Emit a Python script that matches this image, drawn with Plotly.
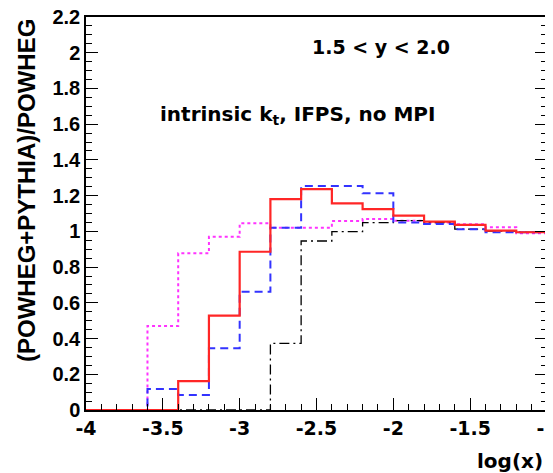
import plotly.graph_objects as go

bin_edges = [-4.0, -3.8, -3.6, -3.4, -3.2, -3.0, -2.8, -2.6, -2.4, -2.2, -2.0,
             -1.8, -1.6, -1.4, -1.2, -1.0]
red_vals = [0, 0, 0, 0.162, 0.528, 0.886, 1.18, 1.237, 1.157, 1.124, 1.088,
            1.055, 1.036, 1.004, 0.995]
blue_vals = [0, 0, 0.118, 0.084, 0.345, 0.662, 1.02, 1.254, 1.254, 1.213,
             1.049, 1.041, 1.012, 0.995, 0.995]
magenta_vals = [0, 0, 0.47, 0.877, 0.97, 1.045, 1.02, 1.02, 1.058, 1.069,
                1.06, 1.05, 1.04, 1.023, 0.99]
black_vals = [0, 0, 0, 0, 0, 0, 0.373, 0.946, 0.998, 1.049, 1.06, 1.049,
              1.012, 1.002, 0.995]

x_tick_vals = [-4, -3.5, -3, -2.5, -2, -1.5, -1]
x_tick_text = ["-4", "-3.5", "-3", "-2.5", "-2", "-1.5", "-1"]
y_tick_vals = [0, 0.2, 0.4, 0.6, 0.8, 1, 1.2, 1.4, 1.6, 1.8, 2, 2.2]
y_tick_text = ["0", "0.2", "0.4", "0.6", "0.8", "1", "1.2", "1.4", "1.6", "1.8", "2", "2.2"]

FONT = "Liberation Sans"
TFONT = "DejaVu Sans"
# the page body has an 8px margin, so the figure starts 8px in
OFF = 8
W, H = 553 - OFF, 473 - OFF
ML, MR, MT, MB = 86 - OFF, 6, 17 - OFF, 63

fig = go.Figure()

def step(vals, color, dash, width):
    fig.add_trace(go.Scatter(
        x=bin_edges, y=vals + [vals[-1]], mode="lines", line_shape="hv",
        line=dict(color=color, dash=dash, width=width),
        showlegend=False, hoverinfo="skip"))

step(magenta_vals, "#ff33ff", "dot", 2)
step(black_vals, "#000000", "10px,4px,2px,4px", 1.3)
step(blue_vals, "#3333ff", "8px,5px", 2)
step(red_vals, "#ff2626", "solid", 2.2)

fig.update_layout(
    width=W, height=H,
    margin=dict(l=ML, r=MR, t=MT, b=MB, autoexpand=False),
    plot_bgcolor="white", paper_bgcolor="white",
    font=dict(family=FONT, color="black"),
    xaxis=dict(
        range=[-4, -1], tickvals=x_tick_vals, ticktext=x_tick_text,
        ticks="inside", ticklen=12, tickwidth=1, tickcolor="black",
        minor=dict(dtick=0.1, ticks="inside", ticklen=6, tickcolor="black"),
        showgrid=False, zeroline=False, automargin=False,
        ticklabeloverflow="allow",
        showline=True, linecolor="black", linewidth=1.5, mirror=True,
        tickfont=dict(family=TFONT, size=19, color="black", weight="bold"),
    ),
    yaxis=dict(
        range=[0, 2.2], tickvals=y_tick_vals, ticktext=y_tick_text,
        ticks="inside", ticklen=12, tickwidth=1, tickcolor="black",
        minor=dict(dtick=0.05, ticks="inside", ticklen=6, tickcolor="black"),
        showgrid=False, zeroline=False, automargin=False,
        ticklabeloverflow="allow",
        showline=True, linecolor="black", linewidth=1.5, mirror="allticks",
        tickfont=dict(family=FONT, size=20, color="black", weight="bold"),
    ),
)

pw, ph = W - ML - MR, H - MT - MB

def px2paper(px, py):
    # px, py are positions in the 553x473 window
    return (px - OFF - ML) / pw, (H - MB - (py - OFF)) / ph

tx, ty = px2paper(27, 191)
fig.add_annotation(x=tx, y=ty, xref="paper", yref="paper",
                   xanchor="center", yanchor="middle", showarrow=False,
                   textangle=-90, text="<b>(POWHEG+PYTHIA)/POWHEG</b>",
                   font=dict(family=FONT, size=24))
lx, ly = px2paper(545, 461)
fig.add_annotation(x=lx, y=ly, xref="paper", yref="paper",
                   xanchor="right", yanchor="middle", showarrow=False,
                   text="<b>log(x)</b>", font=dict(family=TFONT, size=20))
ax1, ay1 = px2paper(452, 47)
fig.add_annotation(x=ax1, y=ay1, xref="paper", yref="paper",
                   xanchor="right", yanchor="middle", showarrow=False,
                   text="<b>1.5 < y < 2.0</b>",
                   font=dict(family=TFONT, size=19))
ax2, ay2 = px2paper(158, 115)
fig.add_annotation(x=ax2, y=ay2, xref="paper", yref="paper",
                   xanchor="left", yanchor="middle", showarrow=False,
                   text="<b>intrinsic k<sub>t</sub>, IFPS, no MPI</b>",
                   font=dict(family=TFONT, size=20))

fig.write_html("out.html")
